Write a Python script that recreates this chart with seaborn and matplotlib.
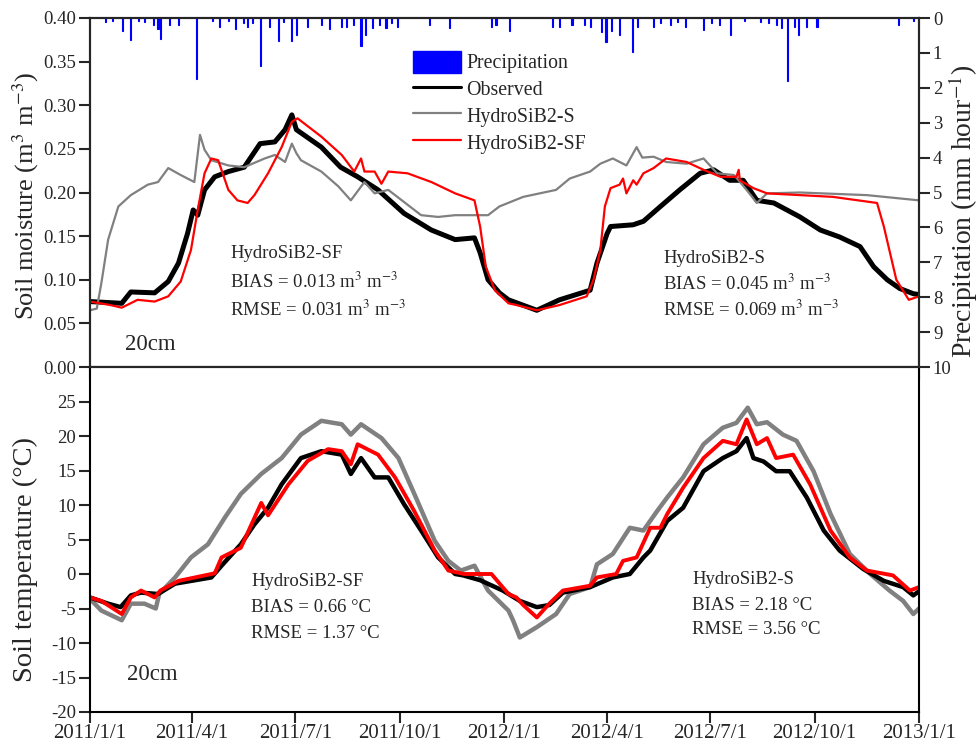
import numpy as np
import pandas as pd
import matplotlib
matplotlib.use("Agg")
import matplotlib.pyplot as plt
from matplotlib.patches import Patch
from matplotlib.lines import Line2D
import seaborn as sns

# ---------------- data (day offsets from 2011-01-01) ----------------
sm_obs_day = [0, 28, 36, 57, 69, 78, 86, 91, 95, 101, 110, 122, 136, 150, 163, 172, 178, 182,
              204, 221, 236, 254, 277, 301, 322, 339, 344, 351, 361, 369, 394, 414, 441, 447,
              456, 459, 479, 488, 503, 520, 538, 550, 564, 576, 588, 603, 626, 644, 661, 679,
              691, 703, 714, 726, 731]
sm_obs = [0.075, 0.073, 0.086, 0.085, 0.098, 0.119, 0.153, 0.180, 0.174, 0.203, 0.218, 0.224,
          0.229, 0.256, 0.258, 0.272, 0.289, 0.272, 0.252, 0.229, 0.218, 0.203, 0.176, 0.157,
          0.146, 0.148, 0.131, 0.100, 0.085, 0.077, 0.065, 0.077, 0.088, 0.119, 0.153, 0.161,
          0.163, 0.167, 0.184, 0.203, 0.222, 0.226, 0.214, 0.214, 0.191, 0.188, 0.172, 0.157,
          0.149, 0.138, 0.115, 0.100, 0.090, 0.084, 0.083]

sm_s_day = [0, 6, 10, 16, 25, 36, 51, 60, 69, 80, 92, 97, 101, 107, 122, 136, 154, 163, 172,
            178, 182, 186, 204, 219, 230, 242, 251, 263, 275, 292, 307, 322, 351, 361, 382,
            411, 423, 441, 450, 461, 473, 482, 487, 497, 508, 526, 541, 553, 568, 579, 588,
            597, 626, 685, 731]
sm_s = [0.065, 0.067, 0.096, 0.146, 0.184, 0.197, 0.209, 0.212, 0.228, 0.220, 0.212, 0.266,
        0.249, 0.237, 0.231, 0.229, 0.239, 0.243, 0.235, 0.256, 0.245, 0.237, 0.224, 0.207,
        0.191, 0.212, 0.199, 0.203, 0.191, 0.174, 0.172, 0.174, 0.174, 0.184, 0.195, 0.203,
        0.216, 0.224, 0.233, 0.239, 0.231, 0.252, 0.240, 0.241, 0.235, 0.233, 0.239, 0.222,
        0.220, 0.203, 0.188, 0.199, 0.200, 0.197, 0.191]

sm_sf_day = [0, 18, 28, 42, 57, 69, 80, 89, 95, 101, 107, 113, 122, 130, 139, 145, 157, 169,
             178, 183, 204, 222, 233, 239, 242, 251, 257, 263, 280, 301, 322, 339, 344, 349,
             357, 369, 376, 394, 414, 438, 444, 450, 454, 459, 467, 470, 473, 479, 482, 488,
             497, 508, 526, 541, 556, 570, 572, 573, 585, 597, 626, 655, 694, 700, 711, 722,
             731]
sm_sf = [0.075, 0.071, 0.068, 0.077, 0.075, 0.081, 0.098, 0.134, 0.180, 0.222, 0.239, 0.237,
         0.203, 0.191, 0.188, 0.197, 0.222, 0.252, 0.281, 0.285, 0.264, 0.243, 0.224, 0.239,
         0.224, 0.224, 0.210, 0.224, 0.222, 0.212, 0.199, 0.191, 0.161, 0.115, 0.088, 0.073,
         0.071, 0.065, 0.071, 0.081, 0.100, 0.134, 0.184, 0.205, 0.209, 0.216, 0.199, 0.214,
         0.209, 0.222, 0.228, 0.239, 0.235, 0.226, 0.218, 0.218, 0.226, 0.214, 0.205, 0.199,
         0.197, 0.195, 0.188, 0.161, 0.100, 0.077, 0.081]

precip_day = [14, 20, 29, 36, 43, 48, 56, 60, 62, 70, 78, 94, 108, 114, 122, 128, 135, 139,
              143, 150, 158, 166, 171, 178, 182, 192, 204, 211, 222, 226, 232, 239, 243, 249,
              255, 261, 266, 271, 299, 317, 354, 358, 370, 408, 414, 425, 436, 441, 451, 455,
              460, 467, 478, 483, 497, 503, 512, 518, 525, 541, 548, 555, 565, 577, 591, 598,
              605, 610, 615, 621, 625, 632, 641, 713, 726]
precip = [0.12, 0.08, 0.38, 0.63, 0.10, 0.12, 0.20, 0.32, 0.60, 0.20, 0.20, 1.75, 0.10, 0.27,
          0.10, 0.32, 0.15, 0.27, 0.15, 1.37, 0.25, 0.65, 0.12, 0.65, 0.48, 0.27, 0.20, 0.32,
          0.25, 0.25, 0.20, 0.79, 0.50, 0.30, 0.20, 0.30, 0.15, 0.27, 0.20, 0.30, 0.25, 0.20,
          0.38, 0.27, 0.25, 0.20, 0.20, 0.27, 0.41, 0.70, 0.37, 0.48, 0.98, 0.27, 0.25, 0.15,
          0.20, 0.12, 0.25, 0.34, 0.15, 0.20, 0.48, 0.10, 0.12, 0.15, 0.20, 0.30, 1.80, 0.27,
          0.48, 0.27, 0.27, 0.20, 0.10]

st_obs_day = [0, 16, 27, 36, 45, 60, 75, 107, 116, 133, 145, 157, 169, 186, 204, 222, 230, 239,
              251, 263, 277, 292, 307, 322, 329, 344, 364, 379, 394, 405, 417, 441, 461, 476,
              488, 494, 509, 523, 541, 558, 570, 579, 585, 594, 605, 617, 632, 647, 661, 682,
              700, 717, 726, 731]
st_obs = [-3.4, -4.3, -4.8, -3.1, -2.7, -2.9, -1.4, -0.5, 1.2, 4.3, 7.2, 9.6, 13.0, 16.8, 17.8,
          17.3, 14.5, 16.8, 14.0, 14.0, 10.1, 6.3, 2.4, 0.0, -0.2, -0.9, -2.4, -3.9, -4.8, -4.5,
          -2.7, -1.9, -0.5, 0.0, 2.4, 3.4, 7.7, 9.6, 14.9, 16.8, 17.8, 19.7, 16.8, 16.3, 14.9,
          14.9, 11.1, 6.3, 3.4, 0.7, -1.0, -1.9, -3.1, -2.5]

st_s_day = [0, 10, 28, 36, 48, 58, 61, 75, 89, 104, 119, 133, 151, 169, 186, 204, 222, 230,
            239, 257, 272, 286, 304, 316, 327, 339, 351, 369, 373, 379, 394, 411, 423, 441, 447,
            461, 476, 488, 500, 509, 523, 541, 558, 570, 580, 588, 597, 611, 623, 638, 653, 670,
            688, 705, 717, 726, 731]
st_s = [-3.6, -5.3, -6.7, -4.3, -4.3, -5.0, -2.9, -0.5, 2.4, 4.3, 8.2, 11.6, 14.5, 16.8, 20.2,
        22.2, 21.7, 20.2, 21.7, 19.7, 16.8, 11.6, 4.8, 1.9, 0.5, 1.2, -2.4, -5.3, -6.7, -9.2,
        -7.7, -5.8, -2.9, -1.9, 1.4, 2.9, 6.7, 6.3, 9.1, 11.1, 14.0, 18.8, 21.2, 21.9, 24.1,
        21.7, 22.0, 20.2, 19.3, 14.9, 8.7, 2.9, 0.0, -2.4, -3.9, -5.8, -5.0]

st_sf_day = [0, 10, 28, 36, 45, 57, 62, 78, 110, 116, 133, 151, 157, 175, 192, 210, 222, 230,
             236, 254, 269, 286, 304, 316, 330, 354, 369, 376, 382, 394, 405, 417, 441, 447,
             464, 470, 482, 494, 503, 509, 523, 541, 558, 570, 579, 588, 597, 605, 620, 635,
             653, 670, 685, 708, 723, 731]
st_sf = [-3.4, -3.9, -5.8, -3.4, -2.4, -3.4, -2.4, -1.0, 0.1, 2.4, 3.8, 10.3, 8.5, 13.0, 16.4,
         18.1, 17.8, 15.9, 18.8, 17.3, 14.0, 9.1, 3.4, 0.5, 0.0, 0.0, -2.9, -3.4, -4.5, -6.3,
         -4.3, -2.4, -1.7, -0.5, 0.0, 1.9, 2.4, 6.7, 6.7, 8.7, 12.5, 16.8, 19.3, 18.8, 22.4,
         18.8, 19.7, 16.8, 17.3, 13.0, 6.3, 2.4, 0.5, -0.2, -2.4, -1.9]

tick_dates = ["2011-01-01", "2011-04-01", "2011-07-01", "2011-10-01", "2012-01-01",
              "2012-04-01", "2012-07-01", "2012-10-01", "2013-01-01"]
tick_labels = ["2011/1/1", "2011/4/1", "2011/7/1", "2011/10/1", "2012/1/1",
               "2012/4/1", "2012/7/1", "2012/10/1", "2013/1/1"]

# ---------------- style ----------------
sns.set_style("ticks")
plt.rcParams["font.family"] = ["Liberation Serif", "DejaVu Serif"]
plt.rcParams["mathtext.fontset"] = "stix"
plt.rcParams["axes.unicode_minus"] = False

start = pd.Timestamp("2011-01-01")
def to_dates(days):
    return start + pd.to_timedelta(np.asarray(days, dtype=float), unit="D")

C_OBS, C_S, C_SF, C_P = "#000000", "#808080", "#ff0000", "#0000ff"

fig = plt.figure(figsize=(9.79, 7.48), dpi=100)
L, R = 90 / 979, 919 / 979
ax1 = fig.add_axes([L, 1 - 367 / 748, R - L, 349 / 748])
ax3 = fig.add_axes([L, 1 - 712 / 748, R - L, 345 / 748])

# ---- top: soil moisture ----
sns.lineplot(x=to_dates(sm_obs_day), y=sm_obs, ax=ax1, color=C_OBS, lw=3.6)
sns.lineplot(x=to_dates(sm_s_day), y=sm_s, ax=ax1, color=C_S, lw=1.6)
sns.lineplot(x=to_dates(sm_sf_day), y=sm_sf, ax=ax1, color=C_SF, lw=1.6)
ax1.set_ylim(0, 0.40)
ax1.set_yticks(np.arange(0, 0.401, 0.05))
ax1.set_yticklabels([f"{v:.2f}" for v in np.arange(0, 0.401, 0.05)])
ax1.set_ylabel("Soil moisture (m$^3$ m$^{-3}$)", fontsize=19, va="center")
ax1.yaxis.set_label_coords(-0.0775, 0.49)

ax2 = ax1.twinx()
ax2.bar(to_dates(precip_day), precip, width=1.0, color=C_P, edgecolor=C_P, linewidth=0.8)
ax2.set_ylim(10, 0)
ax2.set_yticks(range(0, 11))
ax2.set_ylabel("Precipitation (mm hour$^{-1}$)", fontsize=20, va="center")
ax2.yaxis.set_label_coords(1.053, 0.445)

# ---- bottom: soil temperature ----
sns.lineplot(x=to_dates(st_s_day), y=st_s, ax=ax3, color=C_S, lw=3.2)
sns.lineplot(x=to_dates(st_obs_day), y=st_obs, ax=ax3, color=C_OBS, lw=3.2)
sns.lineplot(x=to_dates(st_sf_day), y=st_sf, ax=ax3, color=C_SF, lw=2.8)
ax3.set_ylim(-20, 30)
ax3.set_yticks(range(-20, 26, 5))
ax3.set_ylabel("Soil temperature (°C)", fontsize=20.5, va="center")
ax3.yaxis.set_label_coords(-0.0775, 0.443)

xt = pd.to_datetime(tick_dates)
for a in (ax1, ax3):
    a.set_xlim(pd.Timestamp("2011-01-01"), pd.Timestamp("2013-01-01"))
    a.set_xticks(xt)
    a.set_xlabel("")
    for s in a.spines.values():
        s.set_linewidth(1.5)
        s.set_color("black")
ax1.set_xticklabels([])
ax3.set_xticklabels(tick_labels)
ax1.tick_params(axis="x", direction="out", length=9, width=1.5)
ax3.tick_params(axis="x", direction="out", length=8, width=1.5, labelsize=15, pad=1)
ax1.tick_params(axis="y", direction="out", length=8, width=1.5, labelsize=13.5, pad=2)
ax3.tick_params(axis="y", direction="out", length=8, width=1.5, labelsize=13.5, pad=2)
ax2.tick_params(axis="y", direction="out", length=8, width=1.5, labelsize=13.5, pad=2)
for s in ax2.spines.values():
    s.set_linewidth(1.5)

# annotations
def block(xpix, ys, lines):
    for y, t in zip(ys, lines):
        fig.text(xpix / 979, 1 - y / 748, t, fontsize=13.5, va="center", ha="left")

block(230, [253, 282, 310],
      ["HydroSiB2-SF", "BIAS = 0.013 m$^3$ m$^{-3}$", "RMSE = 0.031 m$^3$ m$^{-3}$"])
block(663, [258, 284, 310],
      ["HydroSiB2-S", "BIAS = 0.045 m$^3$ m$^{-3}$", "RMSE = 0.069 m$^3$ m$^{-3}$"])
block(251, [582, 607, 633],
      ["HydroSiB2-SF", "BIAS = 0.66 °C", "RMSE = 1.37 °C"])
block(692, [580, 605, 630],
      ["HydroSiB2-S", "BIAS = 2.18 °C", "RMSE = 3.56 °C"])
fig.text(125 / 979, 1 - 345 / 748, "20cm", fontsize=16.5, va="center", ha="left")
fig.text(127 / 979, 1 - 675 / 748, "20cm", fontsize=16.5, va="center", ha="left")

handles = [Patch(facecolor=C_P, edgecolor=C_P),
           Line2D([], [], color=C_OBS, lw=2.2),
           Line2D([], [], color=C_S, lw=1.6),
           Line2D([], [], color=C_SF, lw=1.6)]
labels = ["Precipitation", "Observed", "HydroSiB2-S", "HydroSiB2-SF"]
ax1.legend(handles, labels, loc="upper left", bbox_to_anchor=(413 / 979, 1 - 51 / 748),
           bbox_transform=fig.transFigure, frameon=False, fontsize=14.3,
           handlelength=2.4, handleheight=1.3, handletextpad=0.3, labelspacing=0.22,
           borderpad=0, borderaxespad=0)

fig.savefig("out.png", dpi=100)
